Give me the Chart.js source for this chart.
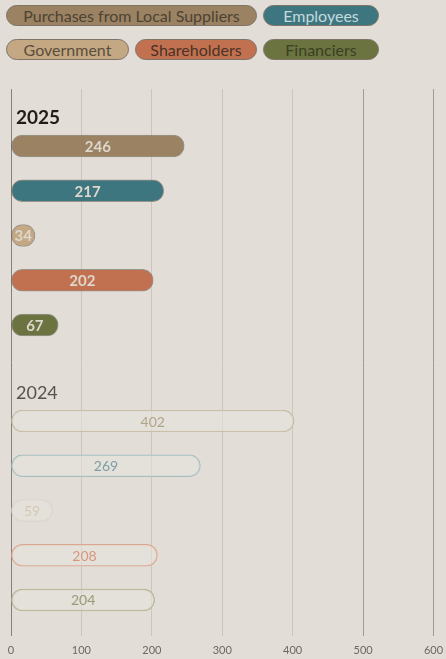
<!DOCTYPE html>
<html lang="en">

<head>
    <meta charset="UTF-8">
    <script src="https://cdn.jsdelivr.net/npm/chart.js"></script>
    <title>Value distributed</title>
    <style>
        html, body { margin: 0; padding: 0; background: #e2ddd7; }
        body { width: 446px; height: 659px; position: relative; overflow: hidden; font-family: Lato, sans-serif; }
        #legend {
            position: absolute; left: 6px; top: 5px;
            display: grid; grid-template-columns: 123px 122px 116px; column-gap: 6px; row-gap: 13px;
        }
        #legend div {
            height: 19px; line-height: 19px; border-radius: 11px; border: 1px solid #7d7367;
            text-align: center; font-size: 16px; white-space: nowrap;
        }
        #legend div.wide { grid-column: span 2; }
        #wrap { position: absolute; left: 0; top: 0; width: 446px; height: 659px; }
    </style>
</head>

<body>
    <div id="legend"></div>
    <div id="wrap"><canvas id="chart"></canvas></div>
</body>

<script>
    // data
    const categories = ['Purchases from Local Suppliers', 'Employees', 'Government', 'Shareholders', 'Financiers'];
    const years = ['2025', '2024'];
    const values2025 = [246, 217, 34, 202, 67];
    const values2024 = [402, 269, 59, 208, 204];
    const xTicks = [0, 100, 200, 300, 400, 500, 600];

    // colours
    const fillColors = ['#9a8262', '#3e7680', '#c4a883', '#c27150', '#6b7441'];
    const legendText = ['#4e4233', '#c3dadd', '#5b4d3b', '#4a3226', '#3a3f22'];
    const outlineColors = ['#c6b9a3', '#a6bec1', '#dcd4c8', '#dba78f', '#b3b495'];
    const outlineText = ['#b1a38b', '#7c9ea4', '#d5c8b2', '#d8967b', '#979b77'];

    // legend (html)
    let legend = document.getElementById('legend');
    for (let i = 0; i < categories.length; i++) {
        let d = document.createElement('div');
        d.textContent = categories[i];
        d.style.background = fillColors[i];
        d.style.color = legendText[i];
        if (i == 0) d.className = 'wide';
        legend.appendChild(d);
    }

    // row positions on the hidden y scale (one unit per bar)
    const sectionStart = [0, 6.145];
    function rows(values, s) {
        return values.map(function (v, i) { return { x: v, y: sectionStart[s] + i }; });
    }

    const labelsPlugin = {
        id: 'labels',
        afterDatasetsDraw(chart) {
            let ctx = chart.ctx;
            ctx.save();
            ctx.textAlign = 'center';
            ctx.textBaseline = 'middle';
            chart.data.datasets.forEach(function (ds, di) {
                chart.getDatasetMeta(di).data.forEach(function (bar, i) {
                    if (di == 0) {
                        ctx.font = 'bold 15px Lato';
                        ctx.fillStyle = '#ddd7ce';
                    } else {
                        ctx.font = '14px Lato';
                        ctx.fillStyle = outlineText[i];
                    }
                    ctx.fillText(ds.data[i].x, (bar.x + bar.base) / 2, bar.y + 1);
                });
            });
            // year headers
            let y = chart.scales.y;
            ctx.textAlign = 'left';
            ctx.font = 'bold 19px Lato';
            ctx.fillStyle = '#241c17';
            ctx.fillText(years[0], chart.chartArea.left + 5, y.getPixelForValue(sectionStart[0] - 0.62));
            ctx.font = '18px Lato';
            ctx.fillStyle = '#5a524b';
            ctx.fillText(years[1], chart.chartArea.left + 5, y.getPixelForValue(sectionStart[1] - 0.62));
            ctx.restore();
        }
    };

    let myChart = document.getElementById('chart').getContext('2d');
    let bars = new Chart(myChart, {
        type: 'bar',
        data: {
            datasets: [{
                label: years[0],
                data: rows(values2025, 0),
                backgroundColor: fillColors,
                borderColor: 'rgba(95,85,75,0.55)',
                borderWidth: 1,
                borderRadius: 11,
                borderSkipped: false,
                barThickness: 22,
                grouped: false
            }, {
                label: years[1],
                data: rows(values2024, 1),
                backgroundColor: 'rgba(230,226,220,0.6)',
                borderColor: outlineColors,
                borderWidth: 1,
                borderRadius: 11,
                borderSkipped: false,
                barThickness: 22,
                grouped: false
            }]
        },
        options: {
            indexAxis: 'y',
            responsive: true,
            maintainAspectRatio: false,
            animation: false,
            layout: { padding: { left: 11, right: 12.5, top: 89, bottom: 1 } },
            plugins: {
                legend: { display: false },
                tooltip: { enabled: false }
            },
            scales: {
                x: {
                    type: 'linear',
                    min: xTicks[0],
                    max: xTicks[xTicks.length - 1],
                    afterBuildTicks: function (axis) {
                        axis.ticks = xTicks.map(function (v) { return { value: v }; });
                    },
                    afterFit: function (axis) {
                        axis.height = 22;
                        axis.paddingLeft = 0;
                        axis.paddingRight = 0;
                    },
                    border: { display: false },
                    grid: {
                        drawTicks: false,
                        color: function (c) {
                            let v = c.tick.value;
                            if (v == 0) return '#86807a';
                            if (v >= 500) return '#a19b94';
                            return '#cbc5be';
                        }
                    },
                    ticks: {
                        padding: 8,
                        color: '#6f675f',
                        font: { family: 'Lato', size: 11 }
                    }
                },
                y: {
                    type: 'linear',
                    display: false,
                    reverse: true,
                    offset: false,
                    bounds: 'data',
                    min: -1.274,
                    max: 10.95
                }
            }
        },
        plugins: [labelsPlugin]
    });
</script>

</html>
